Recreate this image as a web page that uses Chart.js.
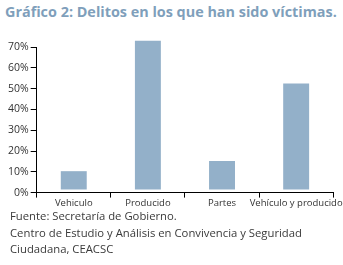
<!DOCTYPE html>
<html>
<head>
<meta charset="utf-8">
<script src="https://cdn.jsdelivr.net/npm/chart.js@4/dist/chart.umd.min.js"></script>
<style>
  body { margin: 0; width: 343px; height: 265px; background: #fff; position: relative; overflow: hidden; font-family: "Open Sans", sans-serif; }
  #title { position: absolute; left: 5px; top: 2px; font: bold 14.4px "Open Sans", sans-serif; color: #7f9fbb; white-space: nowrap; }
  #box { position: absolute; left: 0; top: 36px; width: 343px; height: 173px; }
  #foot { position: absolute; left: 10px; top: 208px; font-size: 11.3px; line-height: 16.6px; color: #3a3a3a; }
</style>
</head>
<body>
<div id="title">Gráfico 2: Delitos en los que han sido víctimas.</div>
<div id="box"><canvas id="c"></canvas></div>
<div id="foot">Fuente: Secretaría de Gobierno.<br>Centro de Estudio y Análisis en Convivencia y Seguridad<br>Ciudadana, CEACSC</div>
<script>
const categories = ['Vehiculo', 'Producido', 'Partes', 'Vehículo y producido'];
const values = [10.3, 73, 15.2, 52.4];
const yTicks = [0, 10, 20, 30, 40, 50, 60, 70];

new Chart(document.getElementById('c'), {
  type: 'bar',
  data: {
    labels: categories,
    datasets: [{
      data: values,
      backgroundColor: '#93b0c9',
      barPercentage: 0.7,
      categoryPercentage: 0.5,
      base: 1.5,
      clip: false
    }]
  },
  options: {
    responsive: true, maintainAspectRatio: false, animation: false,
    layout: { padding: { top: 11, right: 3, left: 6, bottom: 0 } },
    plugins: { legend: { display: false }, tooltip: { enabled: false } },
    scales: {
      y: {
        min: 0, max: 70,
        afterBuildTicks: s => { s.ticks = yTicks.map(v => ({ value: v })); },
        ticks: { callback: v => v + '%', color: '#333', font: { family: 'Open Sans', size: 10.5 }, padding: 2 },
        grid: { drawOnChartArea: false, tickLength: 6, color: '#000' },
        border: { color: '#000' }
      },
      x: {
        ticks: { color: '#333', font: { family: 'Open Sans', size: 9.5 }, maxRotation: 0, autoSkip: false, padding: 0 },
        grid: { drawOnChartArea: false, tickLength: 5, color: '#000', offset: true },
        border: { color: '#000' }
      }
    }
  }
});
</script>
</body>
</html>
